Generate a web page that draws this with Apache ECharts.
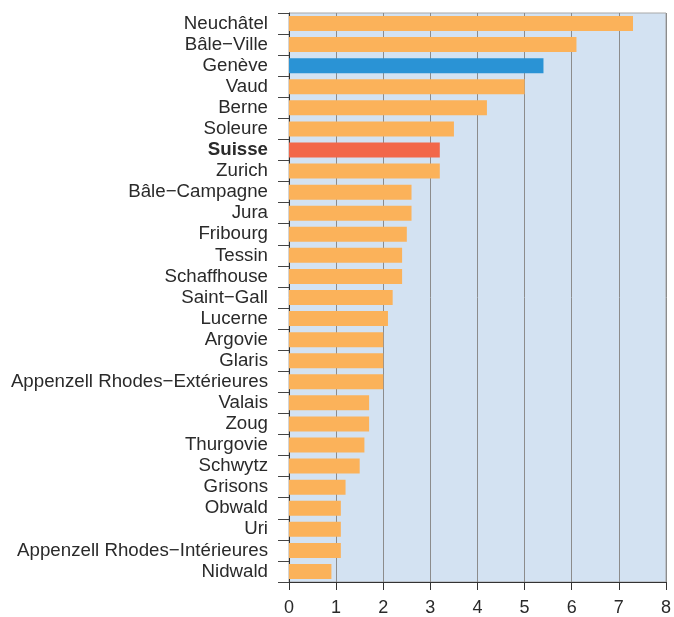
<!DOCTYPE html>
<html><head><meta charset="utf-8">
<script src="https://cdn.jsdelivr.net/npm/echarts@6/dist/echarts.min.js"></script>
<style>html,body{margin:0;padding:0;background:#fff}#c{width:674px;height:617px}</style>
</head><body><div id="c"></div>
<script>
const categories = ["Neuchâtel","Bâle−Ville","Genève","Vaud","Berne","Soleure","Suisse","Zurich","Bâle−Campagne","Jura","Fribourg","Tessin","Schaffhouse","Saint−Gall","Lucerne","Argovie","Glaris","Appenzell Rhodes−Extérieures","Valais","Zoug","Thurgovie","Schwytz","Grisons","Obwald","Uri","Appenzell Rhodes−Intérieures","Nidwald"];
const values = [7.3,6.1,5.4,5.0,4.2,3.5,3.2,3.2,2.6,2.6,2.5,2.4,2.4,2.2,2.1,2.0,2.0,2.0,1.7,1.7,1.6,1.5,1.2,1.1,1.1,1.1,0.9];
const xTicks = [0,1,2,3,4,5,6,7,8];
const highlight = {"Genève":"#2a93d5","Suisse":"#f26749"};
const baseColor = "#fbb25a";
const FF = '"Liberation Sans", Arial, sans-serif';

const chart = echarts.init(document.getElementById('c'));
chart.setOption({
  animation:false,
  grid:{left:289,right:7,top:13,bottom:35,show:true,backgroundColor:'#d3e2f2',borderColor:'#a8a8a8',borderWidth:1},
  xAxis:{type:'value',min:xTicks[0],max:xTicks[xTicks.length-1],interval:1,
    axisLine:{show:true,lineStyle:{color:'#333',width:1}},
    axisTick:{show:true,length:8,lineStyle:{color:'#333'}},
    axisLabel:{color:'#2a2a2a',fontSize:18,fontFamily:FF,margin:17},
    splitLine:{show:true,lineStyle:{color:'#8c8c8c',width:1}}},
  yAxis:{type:'category',inverse:true,data:categories,
    axisLine:{show:true,lineStyle:{color:'#333',width:1}},
    axisTick:{show:true,interval:0,length:11,lineStyle:{color:'#444'}},
    axisLabel:{interval:0,color:'#2a2a2a',fontSize:18.7,fontFamily:FF,margin:21,
      formatter:function(v){return v==='Suisse'?'{b|'+v+'}':v;},
      rich:{b:{fontWeight:'bold',fontSize:18.7,color:'#2a2a2a',fontFamily:FF}}}},
  series:[{type:'bar',barWidth:15,
    data:values.map((v,i)=>({value:v,itemStyle:{color:highlight[categories[i]]||baseColor}}))}]
});
</script></body></html>
